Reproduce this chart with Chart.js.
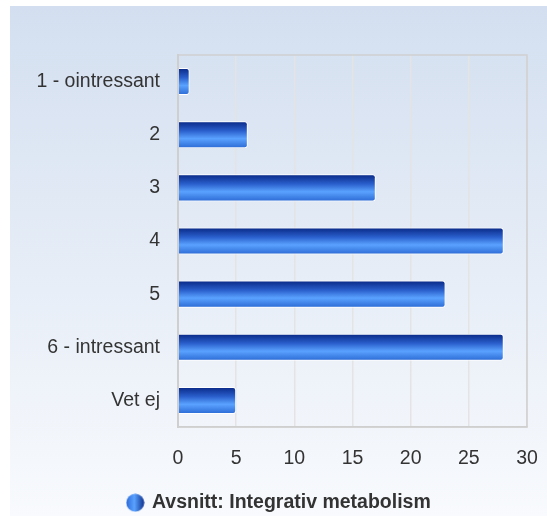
<!DOCTYPE html>
<html>
<head>
<meta charset="utf-8">
<script src="https://cdn.jsdelivr.net/npm/chart.js@4/dist/chart.umd.min.js"></script>
<style>
  html, body { margin: 0; padding: 0; background: #fff; overflow: hidden; }
</style>
</head>
<body>
<canvas id="betyg" width="547" height="516"></canvas>
<script>
// data
var kategorier = ['1 - ointressant', '2', '3', '4', '5', '6 - intressant', 'Vet ej'];
var antal = [1, 6, 17, 28, 23, 28, 5];
var serieNamn = 'Avsnitt: Integrativ metabolism';
var xTicks = [0, 5, 10, 15, 20, 25, 30];

var textFarg = '#333333';
var typsnitt = 'Liberation Sans, Arial, sans-serif';

// bakgrund för hela panelen
var bakgrundPlugin = {
    id: 'bakgrund',
    afterLayout: function (chart) {
        // flytta legenden lite åt höger och nedåt
        var lg = chart.legend;
        if (lg) {
            lg.left += 11;
            lg.right += 11;
            lg.top += 3;
            lg.bottom += 3;
        }
    },
    beforeDraw: function (chart) {
        var c = chart.ctx;
        c.save();
        c.fillStyle = '#ffffff';
        c.fillRect(0, 0, chart.width, chart.height);
        var g = c.createLinearGradient(0, 6, 0, chart.height);
        g.addColorStop(0, '#d3dff0');
        g.addColorStop(1, '#f8fafd');
        c.fillStyle = g;
        c.fillRect(10, 6, chart.width - 10, chart.height - 6);
        c.restore();
    },
    afterDraw: function (chart) {
        var a = chart.chartArea;
        var c = chart.ctx;
        c.save();
        c.strokeStyle = '#cfcfcf';
        c.lineWidth = 1.5;
        c.strokeRect(a.left, a.top, a.right - a.left, a.bottom - a.top);
        c.restore();
    }
};

// gradient per stapel (vertikal)
function stapelFarg(ctx) {
    var chart = ctx.chart;
    if (!chart.chartArea || ctx.dataIndex === undefined) {
        return '#3b7fe6';
    }
    var y = chart.scales.y.getPixelForValue(ctx.dataIndex);
    var half = 13;
    var g = chart.ctx.createLinearGradient(0, y - half, 0, y + half);
    g.addColorStop(0, '#0a2a88');
    g.addColorStop(0.35, '#2a5fcc');
    g.addColorStop(0.65, '#5aa2ff');
    g.addColorStop(1, '#2d6cd6');
    return g;
}

// legendsymbol
var symbol = document.createElement('canvas');
symbol.width = 19;
symbol.height = 19;
(function () {
    var s = symbol.getContext('2d');
    var g = s.createLinearGradient(0, 0, 19, 0);
    g.addColorStop(0, '#2a66d8');
    g.addColorStop(0.45, '#5aa2ff');
    g.addColorStop(1, '#0a2a88');
    s.fillStyle = g;
    s.beginPath();
    s.arc(9.5, 9.5, 9, 0, Math.PI * 2);
    s.fill();
})();

var ctx = document.getElementById('betyg').getContext('2d');
var diagram = new Chart(ctx, {
    type: 'bar',
    data: {
        labels: kategorier,
        datasets: [{
            label: serieNamn,
            data: antal,
            backgroundColor: stapelFarg,
            borderColor: '#ffffff',
            borderWidth: 1,
            borderRadius: 3,
            borderSkipped: 'start',
            categoryPercentage: 0.51,
            barPercentage: 1,
            pointStyle: symbol
        }]
    },
    plugins: [bakgrundPlugin],
    options: {
        indexAxis: 'y',
        responsive: false,
        animation: false,
        layout: {
            padding: { left: 10, top: 55, right: 20, bottom: 0 }
        },
        scales: {
            x: {
                min: 0,
                max: 30,
                afterBuildTicks: function (scale) {
                    scale.ticks = xTicks.map(function (v) { return { value: v }; });
                },
                afterFit: function (scale) {
                    scale.height = 63;
                    scale.paddingLeft = 0;
                    scale.paddingRight = 0;
                },
                grid: { color: '#e4e4e4', lineWidth: 1.5, drawTicks: false },
                border: { color: '#cfcfcf', width: 1.5 },
                ticks: {
                    padding: 20,
                    color: textFarg,
                    font: { family: typsnitt, size: 19.5 }
                }
            },
            y: {
                afterFit: function (scale) {
                    scale.width = 168;
                    scale.paddingTop = 0;
                    scale.paddingBottom = 0;
                },
                grid: { display: false, drawTicks: false },
                border: { color: '#cfcfcf', width: 2 },
                ticks: {
                    padding: 18,
                    color: textFarg,
                    font: { family: typsnitt, size: 19.5 }
                }
            }
        },
        plugins: {
            legend: {
                position: 'bottom',
                maxHeight: 26,
                labels: {
                    usePointStyle: true,
                    boxWidth: 14,
                    padding: 0,
                    color: textFarg,
                    font: { family: typsnitt, size: 19.5, weight: 'bold' }
                }
            },
            tooltip: { enabled: false }
        }
    }
});
</script>
</body>
</html>
